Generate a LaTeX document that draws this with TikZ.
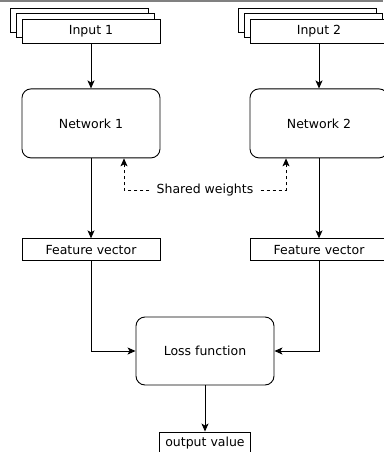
\documentclass[tikz,border=0pt]{standalone}
\usepackage{fontspec}
\setmainfont{DejaVu Sans}
\usetikzlibrary{arrows.meta,positioning}

\begin{document}
\begin{tikzpicture}[x=1pt,y=-1pt,>={Stealth[length=8pt,width=7pt,inset=2pt]},
  every node/.style={font=\fontsize{12.5}{15}\selectfont,align=center},
  box/.style={draw,fill=white,line width=0.9pt,minimum width=138pt,minimum height=22pt,inner sep=0pt},
  layer/.style={box,minimum height=24pt},
  net/.style={box,rounded corners=9pt,minimum height=69pt},
  link/.style={->,line width=0.9pt},
  shared/.style={->,line width=0.9pt,dash pattern=on 3pt off 3pt}]
\useasboundingbox (0,0) rectangle (383,452);
\draw[gray,line width=1.2pt] (0,1)--(383,1);
% stacked inputs
\foreach \d in {2,1} {
  \node[layer] (in1-\d) at (91-6*\d,31-5.5*\d) {};
  \node[layer] (in2-\d) at (319-6*\d,31-5.5*\d) {};
}
\node[layer] (in1) at (91,31) {Input 1};
\node[layer] (in2) at (319,31) {Input 2};
% the two branches
\node[net,below=45pt of in1] (net1) {Network 1};
\node[net,below=45pt of in2] (net2) {Network 2};
\node[box,below=80pt of net1] (fv1) {Feature vector};
\node[box,below=80pt of net2] (fv2) {Feature vector};
\node[net,minimum height=68pt] (loss) at (205,351) {Loss function};
\node[box,minimum width=91pt] (out) at (205,443) {output value};
\node[inner xsep=7pt] (sw) at (205,190) {Shared weights};
\draw[link] (in1)--(net1);
\draw[link] (in2)--(net2);
\draw[link] (net1)--(fv1);
\draw[link] (net2)--(fv2);
\draw[link] (fv1)|-(loss);
\draw[link] (fv2)|-(loss);
\draw[link] (loss)--(out);
\draw[shared] (sw.west)-|([xshift=33pt]net1.south);
\draw[shared] (sw.east)-|([xshift=-33pt]net2.south);
\end{tikzpicture}
\end{document}
